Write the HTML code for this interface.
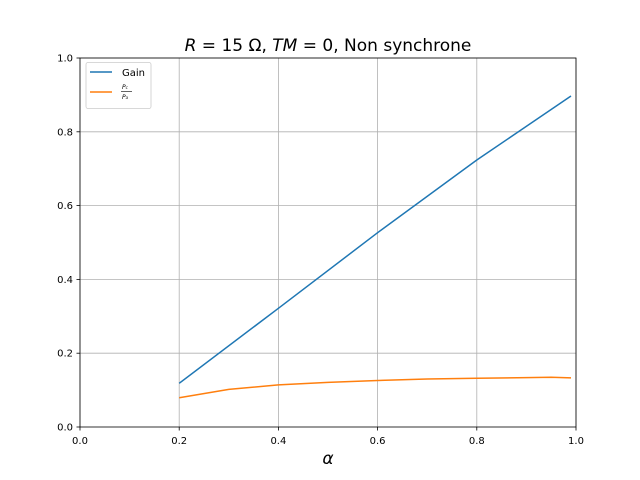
<!DOCTYPE html>
<html><head><meta charset="utf-8"><style>body{margin:0;background:#fff}svg{display:block}</style></head>
<body>
<svg width="640" height="480" xmlns="http://www.w3.org/2000/svg" font-family="DejaVu Sans, Liberation Sans, sans-serif">
<rect width="640" height="480" fill="#fff"/>
<g stroke="#b0b0b0" stroke-width="0.8">
<line x1="80" y1="58" x2="80" y2="427"/><line x1="179.2" y1="58" x2="179.2" y2="427"/><line x1="278.4" y1="58" x2="278.4" y2="427"/><line x1="377.6" y1="58" x2="377.6" y2="427"/><line x1="476.8" y1="58" x2="476.8" y2="427"/><line x1="576" y1="58" x2="576" y2="427"/>
<line x1="80" y1="353.2" x2="576" y2="353.2"/><line x1="80" y1="279.4" x2="576" y2="279.4"/><line x1="80" y1="205.6" x2="576" y2="205.6"/><line x1="80" y1="131.8" x2="576" y2="131.8"/><line x1="80" y1="58" x2="576" y2="58"/>
</g>
<polyline fill="none" stroke="#1f77b4" stroke-width="1.5" points="179.2,383.3 278.4,308.3 377.6,232.7 476.8,160 571,96"/>
<polyline fill="none" stroke="#ff7f0e" stroke-width="1.5" points="179.2,397.8 228.8,389.4 278.4,384.9 328,382.4 377.6,380.5 427.2,379 476.8,378.3 526.4,377.6 551.2,377.2 571,377.9"/>
<rect x="80" y="58" width="496" height="369" fill="none" stroke="#000" stroke-width="0.8"/>
<g stroke="#000" stroke-width="0.8">
<line x1="80" y1="427" x2="80" y2="430.5"/><line x1="179.2" y1="427" x2="179.2" y2="430.5"/><line x1="278.4" y1="427" x2="278.4" y2="430.5"/><line x1="377.6" y1="427" x2="377.6" y2="430.5"/><line x1="476.8" y1="427" x2="476.8" y2="430.5"/><line x1="576" y1="427" x2="576" y2="430.5"/>
<line x1="76.5" y1="427" x2="80" y2="427"/><line x1="76.5" y1="353.2" x2="80" y2="353.2"/><line x1="76.5" y1="279.4" x2="80" y2="279.4"/><line x1="76.5" y1="205.6" x2="80" y2="205.6"/><line x1="76.5" y1="131.8" x2="80" y2="131.8"/><line x1="76.5" y1="58" x2="80" y2="58"/>
</g>
<g font-size="10" fill="#000" text-anchor="middle">
<text x="80" y="444">0.0</text><text x="179.2" y="444">0.2</text><text x="278.4" y="444">0.4</text><text x="377.6" y="444">0.6</text><text x="476.8" y="444">0.8</text><text x="576" y="444">1.0</text>
</g>
<g font-size="10" fill="#000" text-anchor="end">
<text x="73" y="430.5">0.0</text><text x="73" y="356.7">0.2</text><text x="73" y="282.9">0.4</text><text x="73" y="209.1">0.6</text><text x="73" y="135.3">0.8</text><text x="73" y="61.5">1.0</text>
</g>
<text x="328" y="464" font-size="17" font-style="italic" text-anchor="middle">α</text>
<text x="328" y="51" font-size="17" text-anchor="middle"><tspan font-style="italic">R</tspan> = 15 Ω,  <tspan font-style="italic">TM</tspan> = 0,  Non synchrone</text>
<rect x="86" y="62.5" width="65" height="46" rx="2" fill="#fff" fill-opacity="0.8" stroke="#ccc" stroke-width="0.8"/>
<line x1="90" y1="72" x2="112" y2="72" stroke="#1f77b4" stroke-width="1.5"/>
<text x="122" y="76" font-size="10">Gain</text>
<line x1="90" y1="92" x2="112" y2="92" stroke="#ff7f0e" stroke-width="1.5"/>
<text x="122" y="89" font-size="6" font-style="italic">P<tspan font-size="4">c</tspan></text>
<line x1="121" y1="91.5" x2="132" y2="91.5" stroke="#000" stroke-width="0.6"/>
<text x="122" y="99" font-size="6" font-style="italic">P<tspan font-size="4">a</tspan></text>
</svg>
</body></html>
